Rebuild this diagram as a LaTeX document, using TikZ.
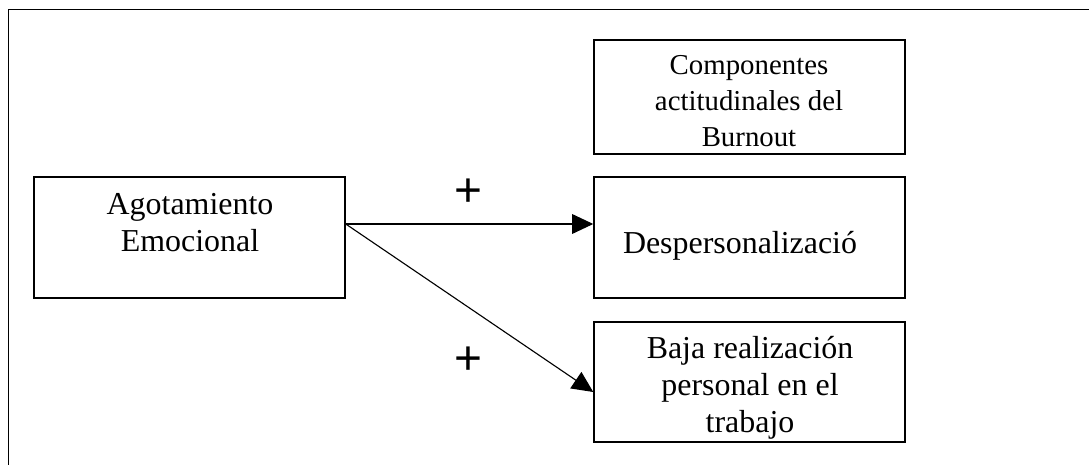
\documentclass[tikz,border=0pt]{standalone}
\usepackage{fontspec}
\setmainfont{Liberation Serif}
\newfontfamily\plusfont{Liberation Sans}
\usetikzlibrary{arrows.meta}

\begin{document}
\begin{tikzpicture}[
    x=0.025cm, y=-0.025cm,
    >={Triangle[length=15pt, width=14pt]},
    font=\fontsize{22.7}{26.2}\selectfont,
    box/.style={rectangle, draw=black, line width=1pt, minimum width=7.775cm},
    tallbox/.style={box, minimum height=3.025cm},
    lbl/.style={align=center, inner sep=0pt},
    sign/.style={font=\plusfont\fontsize{34}{40}\selectfont, inner sep=0pt},
    link/.style={->, line width=0.8pt}
]

    % 1. Frame
    \useasboundingbox (0,0) rectangle (1089,465);
    \draw[line width=1.4pt] (8.5,465) -- (8.5,9.5) -- (1089,9.5);

    % 2. Boxes
    \node[tallbox] (agot) at (189.5, 237.5) {};
    \node[box, minimum height=2.85cm] (comp) at (749.5, 97) {};
    \node[tallbox] (desp) at (749.5, 237.5) {};
    \node[box, minimum height=3cm] (baja) at (749.5, 382) {};

    % 3. Labels
    \node[lbl] (agotlbl) at (190, 222.5) {Agotamiento\\Emocional};
    \node[lbl, font=\fontsize{20.5}{25.6}\selectfont] (complbl) at (749, 101.5) {Componentes\\actitudinales del\\Burnout};
    \node[lbl] (desplbl) at (740, 245.5) {Despersonalizació};
    \node[lbl] (bajalbl) at (750, 387.5) {Baja realización\\personal en el\\trabajo};

    % 4. Arrows
    \coordinate (src) at ([yshift=0.3375cm]agot.east);
    \draw[link] (src) -- (desp.west |- src);
    \draw[link] (src) -- ([yshift=-0.25cm]baja.west);

    % 5. Signs
    \node[sign] (plusup) at (468, 193) {+};
    \node[sign] (pluslow) at (468, 361) {+};

\end{tikzpicture}
\end{document}
